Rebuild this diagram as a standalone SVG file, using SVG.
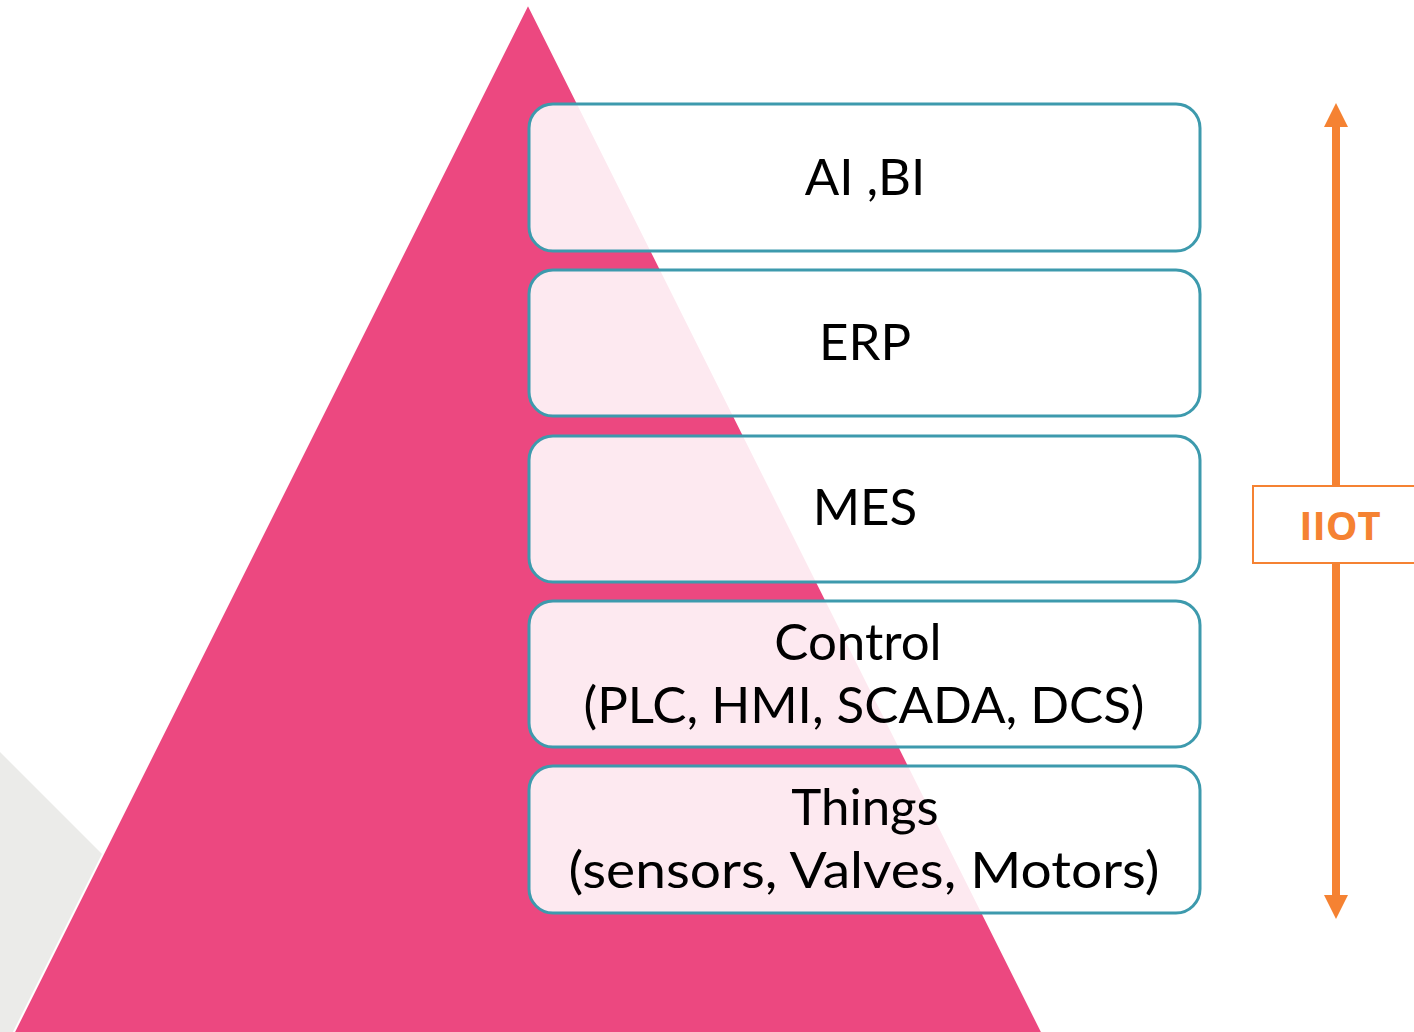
<svg xmlns="http://www.w3.org/2000/svg" width="1414" height="1032" viewBox="0 0 1414 1032">
<style>
.box{fill:#ffffff;fill-opacity:0.88;stroke:#3d9aad;stroke-width:3}
.lbl{font-family:Lato,"Open Sans","Liberation Sans",sans-serif;font-size:51px;fill:#000;text-anchor:middle}
.iiot{font-family:"Open Sans","Liberation Sans",sans-serif;font-size:40px;font-weight:bold;fill:#f58232;text-anchor:middle}
</style>
<rect x="0" y="0" width="1414" height="1032" fill="#ffffff"/>
<g id="background">
<polygon points="0,752 290,1042 0,1042" fill="#ebebe9"/>
<polygon points="528,4 1044,1036 12,1036" fill="#ec4880" stroke="#ffffff" stroke-width="2"/>
</g>
<g id="connectors">
<line x1="1336" y1="124" x2="1336" y2="898" stroke="#f58232" stroke-width="8"/>
<polygon points="1336,103 1348,127 1324,127" fill="#f58232"/>
<polygon points="1336,919 1348,895 1324,895" fill="#f58232"/>
</g>
<g id="ai-bi">
<rect class="box" x="529" y="104" width="671" height="147" rx="24"/>
<text class="lbl" x="865" y="195">AI ,BI</text>
</g>
<g id="erp">
<rect class="box" x="529" y="270" width="671" height="146" rx="24"/>
<text class="lbl" x="865" y="360">ERP</text>
</g>
<g id="mes">
<rect class="box" x="529" y="436" width="671" height="146" rx="24"/>
<text class="lbl" x="865" y="525">MES</text>
</g>
<g id="control">
<rect class="box" x="529" y="601" width="671" height="146" rx="24"/>
<text class="lbl"><tspan x="858" y="660">Control</tspan><tspan x="864" y="723" textLength="561" lengthAdjust="spacingAndGlyphs">(PLC, HMI, SCADA, DCS)</tspan></text>
</g>
<g id="things">
<rect class="box" x="529" y="766" width="671" height="147" rx="24"/>
<text class="lbl"><tspan x="865" y="825">Things</tspan><tspan x="864" y="888" textLength="591" lengthAdjust="spacingAndGlyphs">(sensors, Valves, Motors)</tspan></text>
</g>
<g id="iiot">
<rect x="1253" y="486" width="175" height="77" fill="#ffffff" stroke="#f58232" stroke-width="2"/>
<text class="iiot" x="1340" y="540">IIOT</text>
</g>
</svg>
